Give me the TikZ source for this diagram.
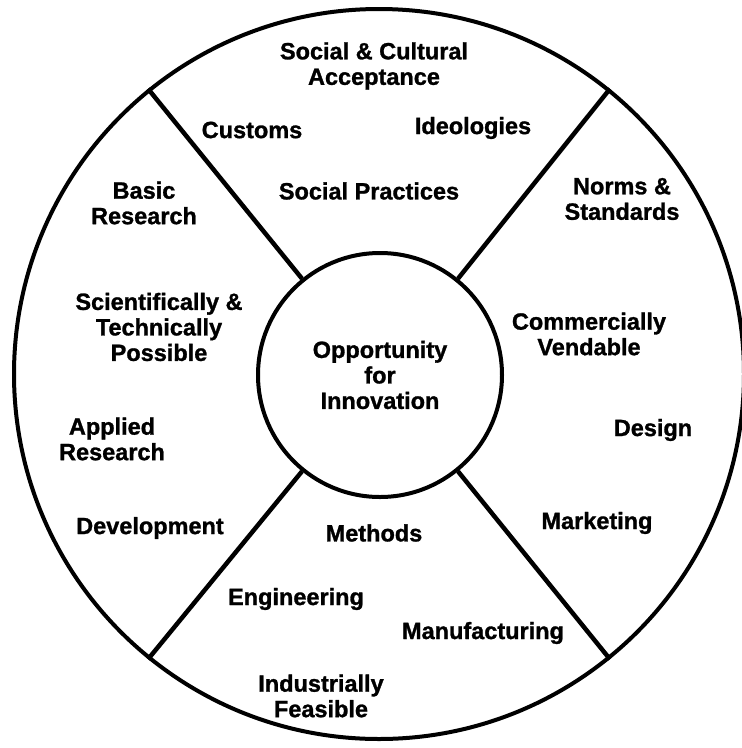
\documentclass[tikz,border=0pt]{standalone}
\usepackage{fontspec}
\setsansfont{Liberation Sans}[BoldFeatures={FakeBold=1.2}]
\usepackage{tikz}
\usetikzlibrary{positioning,calc}
\definecolor{ink}{HTML}{000000}
\tikzset{
  % --- nodes
  rim/.style   = {circle, draw=ink, line width=4pt, minimum size=730pt, inner sep=0pt},
  hub/.style   = {circle, draw=ink, line width=4pt, minimum size=244pt, inner sep=0pt,
                  align=center, font=\sffamily\bfseries\fontsize{23.5}{25.5}\selectfont},
  lbl/.style   = {align=center, inner sep=0pt,
                  font=\sffamily\bfseries\fontsize{23.5}{25.5}\selectfont},
  % --- edges
  spoke/.style = {draw=ink, line width=4.5pt},
}
\begin{document}
\begin{tikzpicture}[x=1pt,y=-1pt]
  \useasboundingbox (0,0) rectangle (742,748);
  % rings
  \node[rim] (rim) at (379,374) {};
  \node[hub] (hub) at (380,375) {Opportunity\\for\\Innovation};
  % spokes
  \foreach \a in {51,129,231,309}
    \draw[spoke] (hub.\a) -- (rim.\a);
  % top sector
  \node[lbl] (social)    at (374,66)  {Social \& Cultural\\Acceptance};
  \node[lbl] (customs)   at (252,130) {Customs};
  \node[lbl] (ideol)     at (473,128) {Ideologies};
  \node[lbl] (practices) at (369,191) {Social Practices};
  % left sector
  \node[lbl] (basic)     at (144,203) {Basic\\Research};
  \node[lbl] (scipos)    at (159,327) {Scientifically \&\\Technically\\Possible};
  \node[lbl] (applied)   at (112,439) {Applied\\Research};
  \node[lbl] (devel)     at (150,528) {Development};
  % right sector
  \node[lbl] (norms)     at (622,199) {Norms \&\\Standards};
  \node[lbl] (comm)      at (589,334) {Commercially\\Vendable};
  \node[lbl] (design)    at (653,430) {Design};
  \node[lbl] (market)    at (597,523) {Marketing};
  % bottom sector
  \node[lbl] (methods)   at (374,533) {Methods};
  \node[lbl] (engin)     at (296,599) {Engineering};
  \node[lbl] (manuf)     at (483,633) {Manufacturing};
  \node[lbl] (indust)    at (321,696) {Industrially\\Feasible};
\end{tikzpicture}
\end{document}
